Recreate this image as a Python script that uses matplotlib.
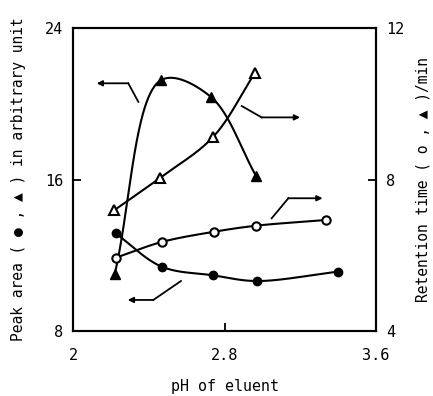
import numpy as np
import matplotlib
matplotlib.use("Agg")
import matplotlib.pyplot as plt

# pH values and measured points
ph_area_tri = [2.22, 2.465, 2.727, 2.966]
area_tri = [11.0, 21.25, 20.37, 16.2]          # peak area, filled triangles

ph_area_circ = [2.225, 2.468, 2.741, 2.97, 3.397]
area_circ = [13.16, 11.4, 10.94, 10.64, 11.13]  # peak area, filled circles

ph_rt_circ = [2.229, 2.468, 2.744, 2.966, 3.334]
rt_circ = [5.94, 6.35, 6.62, 6.78, 6.93]        # retention time, open circles

ph_rt_tri = [2.218, 2.461, 2.741, 2.961]
rt_tri = [7.19, 8.05, 9.13, 10.82]              # retention time, open triangles

XLIM = (2, 3.6)


def smooth(x, y, ylim, num=60):
    # centripetal Catmull-Rom through the points, in axes-fraction space
    u = (np.asarray(x, float) - XLIM[0]) / (XLIM[1] - XLIM[0])
    v = (np.asarray(y, float) - ylim[0]) / (ylim[1] - ylim[0])
    P = np.column_stack([u, v])
    P = np.vstack([2 * P[0] - P[1], P, 2 * P[-1] - P[-2]])
    out = []
    for i in range(1, len(P) - 2):
        p0, p1, p2, p3 = P[i - 1], P[i], P[i + 1], P[i + 2]
        t0 = 0.0
        t1 = t0 + np.linalg.norm(p1 - p0) ** 0.5
        t2 = t1 + np.linalg.norm(p2 - p1) ** 0.5
        t3 = t2 + np.linalg.norm(p3 - p2) ** 0.5
        t = np.linspace(t1, t2, num)[:, None]
        a1 = (t1 - t) / (t1 - t0) * p0 + (t - t0) / (t1 - t0) * p1
        a2 = (t2 - t) / (t2 - t1) * p1 + (t - t1) / (t2 - t1) * p2
        a3 = (t3 - t) / (t3 - t2) * p2 + (t - t2) / (t3 - t2) * p3
        b1 = (t2 - t) / (t2 - t0) * a1 + (t - t0) / (t2 - t0) * a2
        b2 = (t3 - t) / (t3 - t1) * a2 + (t - t1) / (t3 - t1) * a3
        c = (t2 - t) / (t2 - t1) * b1 + (t - t1) / (t2 - t1) * b2
        out.append(c)
    C = np.vstack(out)
    xs = XLIM[0] + C[:, 0] * (XLIM[1] - XLIM[0])
    ys = ylim[0] + C[:, 1] * (ylim[1] - ylim[0])
    return xs, ys


plt.rcParams['font.family'] = ['DejaVu Sans Mono', 'DejaVu Sans']

fig = plt.figure(figsize=(4.33, 3.96), dpi=100)
ax = fig.add_axes([0.1686, 0.1641, 0.6998, 0.7652])
ax2 = ax.twinx()

lw = 1.5
ax.plot(*smooth(ph_area_tri, area_tri, (8, 24)), color='black', lw=lw)
ax.plot(ph_area_tri, area_tri, '^', color='black', ms=7, ls='none')
ax.plot(*smooth(ph_area_circ, area_circ, (8, 24)), color='black', lw=lw)
ax.plot(ph_area_circ, area_circ, 'o', color='black', ms=6, ls='none')

ax2.plot(*smooth(ph_rt_circ, rt_circ, (4, 12)), color='black', lw=lw)
ax2.plot(ph_rt_circ, rt_circ, 'o', mfc='white', mec='black', mew=1.5, ms=6, ls='none')
ax2.plot(*smooth(ph_rt_tri, rt_tri, (4, 12)), color='black', lw=lw)
ax2.plot(ph_rt_tri, rt_tri, '^', mfc='white', mec='black', mew=1.5, ms=7, ls='none')

# hand-drawn style arrows pointing to the matching axis
arrows = [
    [(2.345, 20.1), (2.292, 21.08), (2.125, 21.08)],
    [(2.891, 19.88), (2.996, 19.28), (3.199, 19.28)],
    [(3.049, 13.95), (3.137, 15.01), (3.318, 15.01)],
    [(2.570, 10.64), (2.424, 9.64), (2.289, 9.64)],
]
for pts in arrows:
    xs = [p[0] for p in pts]
    ys = [p[1] for p in pts]
    ax.plot(xs[:-1], ys[:-1], color='black', lw=1.3)
    ax.annotate('', xy=pts[-1], xytext=pts[-2],
                arrowprops=dict(arrowstyle='-|>', color='black', lw=1.3,
                                mutation_scale=8, shrinkA=0, shrinkB=0))

ax.set_xlim(*XLIM)
ax.set_ylim(8, 24)
ax2.set_ylim(4, 12)
ax.set_xticks([2, 2.8, 3.6])
ax.set_xticklabels(['2', '2.8', '3.6'])
ax.set_yticks([8, 16, 24])
ax2.set_yticks([4, 8, 12])

ax.tick_params(axis='x', direction='in', length=6, width=1.3, labelsize=11, pad=12)
ax.tick_params(axis='y', direction='in', length=6, width=1.3, labelsize=11, pad=7)
ax2.tick_params(direction='in', length=6, width=1.3, labelsize=11, pad=7)
for a in (ax, ax2):
    for s in a.spines.values():
        s.set_linewidth(1.5)

ax.set_xlabel('pH of eluent', fontsize=10.8, labelpad=12)
ax.set_ylabel('Peak area ( \u25cf , \u25b2 ) in arbitrary unit', fontsize=10.5, labelpad=14)
ax2.set_ylabel('Retention time ( o , \u25b2 )/min', fontsize=10.5, labelpad=8)

fig.savefig('out.png', dpi=100)
